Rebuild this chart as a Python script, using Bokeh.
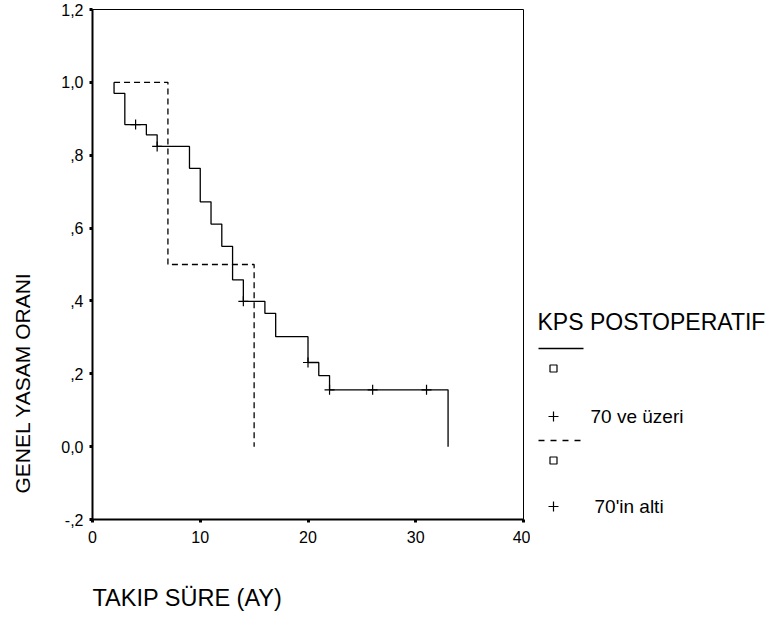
import math
from bokeh.plotting import figure
from bokeh.models import Range1d, FixedTicker, Title
from bokeh.layouts import row
from bokeh.core.properties import value
from bokeh.embed import file_html
from bokeh.resources import INLINE

# ---------------- data ----------------
x_title = "TAKIP SÜRE (AY)"
y_title = "GENEL YASAM ORANI"
legend_title = "KPS POSTOPERATIF"
group_labels = ["70 ve üzeri", "70'in alti"]

start_time = 2
start_surv = 1.0

# group 1: KPS >= 70 (solid)
hi_times = [2, 3, 5, 6, 9, 10, 11, 12, 13, 14, 16, 17, 20, 21, 22, 33]
hi_surv = [0.97, 0.884, 0.856, 0.824, 0.764, 0.672, 0.611, 0.550, 0.458,
           0.399, 0.366, 0.302, 0.231, 0.195, 0.156, 0.0]
hi_cens_t = [4, 6, 14, 20, 22, 26, 31]
hi_cens_s = [0.884, 0.824, 0.399, 0.231, 0.156, 0.156, 0.156]

# group 2: KPS < 70 (dashed)
lo_times = [7, 15]
lo_surv = [0.5, 0.0]

x_ticks = [0, 10, 20, 30, 40]
x_tick_labels = ["0", "10", "20", "30", "40"]
y_ticks = [-0.2, 0.0, 0.2, 0.4, 0.6, 0.8, 1.0, 1.2]
y_tick_labels = ["-,2", "0,0", ",2", ",4", ",6", ",8", "1,0", "1,2"]

FONT = "Liberation Sans"


def steps(t0, s0, times, surv):
    xs, ys = [t0], [s0]
    prev = s0
    for t, s in zip(times, surv):
        xs += [t, t]
        ys += [prev, s]
        prev = s
    return xs, ys


# ---------------- main chart ----------------
p = figure(width=530, height=619,
           x_range=Range1d(0, 40), y_range=Range1d(-0.2, 1.2),
           output_backend="svg", toolbar_location=None,
           min_border_left=92, min_border_right=7,
           min_border_top=9, min_border_bottom=100)
p.background_fill_color = "white"
p.border_fill_color = "white"
p.xgrid.grid_line_color = None
p.ygrid.grid_line_color = None
p.outline_line_color = "black"
p.outline_line_width = 1

for ax in (p.xaxis[0], p.yaxis[0]):
    ax.axis_line_width = 2
    ax.axis_line_color = "black"
    ax.major_tick_line_width = 3
    ax.major_tick_line_color = "black"
    ax.major_tick_out = 3
    ax.major_tick_in = 0
    ax.minor_tick_line_color = None
    ax.major_label_text_font = FONT
    ax.major_label_text_font_size = "16px"
    ax.major_label_text_color = "black"
p.xaxis.major_label_standoff = 8
p.yaxis.major_label_standoff = 6

p.xaxis.ticker = FixedTicker(ticks=x_ticks)
p.xaxis.major_label_overrides = {t: l for t, l in zip(x_ticks, x_tick_labels)}
p.yaxis.ticker = FixedTicker(ticks=y_ticks)
p.yaxis.major_label_overrides = {t: l for t, l in zip(y_ticks, y_tick_labels)}

hx, hy = steps(start_time, start_surv, hi_times, hi_surv)
p.line(hx, hy, line_color="black", line_width=1.3)
lx, ly = steps(start_time, start_surv, lo_times, lo_surv)
p.line(lx, ly, line_color="black", line_width=1.3, line_dash="6 4")
p.scatter(hi_cens_t, hi_cens_s, marker="cross", size=10,
          line_color="black", line_width=1.2)

# spacer panels between the axes and their titles
p.add_layout(Title(text=" ", text_font=FONT, text_font_size="10px",
                   standoff=24), "below")
p.add_layout(Title(text=x_title, text_font=FONT, text_font_size="23.5px",
                   text_font_style="normal", text_color="black",
                   align="left", offset=0, standoff=0), "below")
p.add_layout(Title(text=" ", text_font=FONT, text_font_size="10px",
                   standoff=12), "left")
p.add_layout(Title(text=y_title, text_font=FONT, text_font_size="21px",
                   text_font_style="normal", text_color="black",
                   align="left", offset=26, standoff=0), "left")

# ---------------- legend panel (frame aligned with main frame) ----------------
q = figure(width=245, height=619,
           x_range=Range1d(530, 775), y_range=Range1d(519, 9),
           x_axis_type=None, y_axis_type=None,
           output_backend="svg", toolbar_location=None, min_border=0)
q.outline_line_color = None
q.background_fill_color = "white"
q.border_fill_color = "white"
q.xgrid.grid_line_color = None
q.ygrid.grid_line_color = None

q.text(x=[537], y=[321], text=[legend_title], text_font=value(FONT),
       text_font_size="23px", text_color="black",
       text_align="left", text_baseline="middle")
q.line([538, 583], [348, 348], line_color="black", line_width=1.3)
q.line([538, 583], [440, 440], line_color="black", line_width=1.3, line_dash="6 6")
q.scatter([553, 553], [368, 460], marker="square", size=7,
          fill_color=None, line_color="black", line_width=1.2)
q.scatter([553, 553], [416, 506], marker="cross", size=10,
          line_color="black", line_width=1.2)
q.text(x=[590, 594], y=[416, 506], text=group_labels, text_font=value(FONT),
       text_font_size="19px", text_color="black",
       text_align="left", text_baseline="middle")

layout = row(p, q)
open("out.html", "w").write(file_html(layout, INLINE))
